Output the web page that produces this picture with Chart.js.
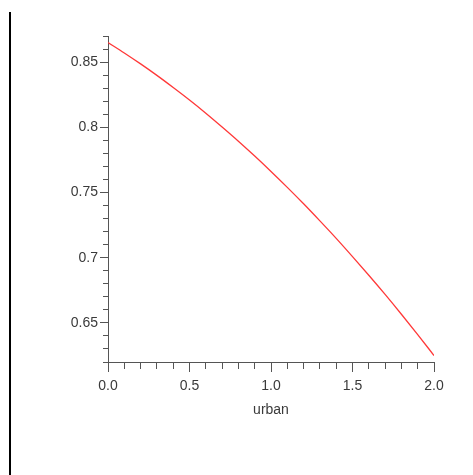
<!DOCTYPE html>
<html>
<head>
<meta charset="utf-8">
<script src="https://cdn.jsdelivr.net/npm/chart.js@4.4.1/dist/chart.umd.min.js"></script>
<style>
  html, body { margin: 0; padding: 0; background: #fff; }
  #wrap { position: relative; width: 473px; height: 475px; overflow: hidden; }
  #frameLine { position: absolute; left: 9px; top: 12px; width: 2px; height: 463px; background: #000; }
  #plot { position: absolute; left: 0; top: 0; }
</style>
</head>
<body>
<div id="wrap">
  <div id="frameLine"></div>
  <canvas id="plot" width="473" height="475"></canvas>
</div>
<script>
// values
const urban = [0.0, 0.1, 0.2, 0.3, 0.4, 0.5, 0.6, 0.7, 0.8, 0.9, 1.0,
               1.1, 1.2, 1.3, 1.4, 1.5, 1.6, 1.7, 1.8, 1.9, 2.0];
const prob = [0.865, 0.857, 0.8486, 0.8398, 0.8305, 0.8209, 0.8108, 0.8002, 0.7893, 0.7779, 0.7661,
              0.7539, 0.7413, 0.7282, 0.7148, 0.7008, 0.6865, 0.6718, 0.6566, 0.641, 0.625];

const xTicks = [0, 0.5, 1, 1.5, 2];
const yTicks = [0.65, 0.7, 0.75, 0.8, 0.85];
const xRange = [0, 2];
const yRange = [0.62, 0.87];
const xMinorStep = 0.1;
const yMinorStep = 0.01;

const axisColor = '#555';
const labelColor = '#3a3a3a';
const font = { family: 'Liberation Sans, Arial, sans-serif', size: 14 };

const points = urban.map((u, i) => ({ x: u, y: prob[i] }));

new Chart(document.getElementById('plot').getContext('2d'), {
  type: 'line',
  data: {
    datasets: [{
      data: points,
      borderColor: '#ff3838',
      borderWidth: 1.3,
      pointRadius: 0,
      fill: false,
      cubicInterpolationMode: 'monotone'
    }]
  },
  options: {
    responsive: false,
    animation: false,
    devicePixelRatio: 1,
    layout: { padding: { left: 0, top: 36, right: 39, bottom: 0 } },
    plugins: { legend: { display: false }, tooltip: { enabled: false } },
    scales: {
      x: {
        type: 'linear',
        position: 'bottom',
        min: xRange[0], max: xRange[1],
        bounds: 'data',
        border: { color: axisColor, width: 1 },
        grid: { drawOnChartArea: false, tickLength: 10, tickColor: axisColor },
        afterBuildTicks: s => { s.ticks = xTicks.map(v => ({ value: v })); },
        ticks: {
          autoSkip: false,
          maxRotation: 0,
          padding: 6,
          color: labelColor,
          font: font,
          callback: v => Number(v).toFixed(1)
        },
        title: {
          display: true,
          text: 'urban',
          color: labelColor,
          font: { family: font.family, size: 14 },
          padding: { top: 0, bottom: 56.6 }
        },
        afterFit: s => { s.height = 113; }
      },
      xMinor: {
        type: 'linear',
        axis: 'x',
        position: { y: yRange[0] },
        min: xRange[0], max: xRange[1],
        bounds: 'data',
        border: { color: axisColor, width: 1 },
        grid: { drawOnChartArea: false, tickLength: 6, tickColor: axisColor },
        ticks: { stepSize: xMinorStep, includeBounds: false, autoSkip: false, display: false, font: { size: 4 } }
      },
      y: {
        type: 'linear',
        position: 'left',
        min: yRange[0], max: yRange[1],
        bounds: 'data',
        border: { color: axisColor, width: 1 },
        grid: { drawOnChartArea: false, tickLength: 8, tickColor: axisColor },
        afterBuildTicks: s => { s.ticks = yTicks.map(v => ({ value: v })); },
        ticks: {
          autoSkip: false,
          padding: 2,
          color: labelColor,
          font: font,
          callback: v => String(+Number(v).toFixed(2))
        },
        afterFit: s => { s.width = 108; }
      },
      yMinor: {
        type: 'linear',
        axis: 'y',
        position: { x: xRange[0] },
        min: yRange[0], max: yRange[1],
        bounds: 'data',
        border: { color: axisColor, width: 1 },
        grid: { drawOnChartArea: false, tickLength: 5, tickColor: axisColor },
        ticks: { stepSize: yMinorStep, includeBounds: false, autoSkip: false, display: false, font: { size: 4 } }
      }
    }
  }
});
</script>
</body>
</html>
